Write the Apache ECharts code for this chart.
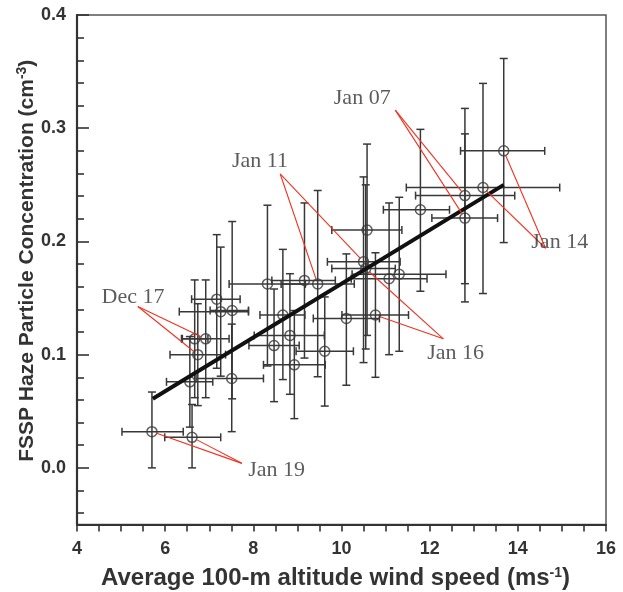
<!DOCTYPE html>
<html>
<head>
<meta charset="utf-8">
<script src="https://cdn.jsdelivr.net/npm/echarts@6/dist/echarts.min.js"></script>
<style>
  html, body { margin: 0; padding: 0; background: #fff; }
  #chart { width: 623px; height: 592px; }
</style>
</head>
<body>
<div id="chart"></div>
<script>
// Daily means: wind speed (m/s) vs FSSP haze particle concentration (cm^-3)
const windSpeed = [5.70, 6.61, 6.56, 7.51, 6.74, 6.67, 6.92, 7.17, 7.26, 7.52,
                   8.32, 9.16, 9.46, 8.67, 8.83, 8.47, 8.93, 9.62, 10.11, 10.77,
                   10.50, 10.55, 10.58, 11.08, 11.31, 11.79, 12.80, 12.80, 13.21, 13.68];
const hazeConc  = [0.032, 0.027, 0.076, 0.079, 0.100, 0.114, 0.114, 0.149, 0.138, 0.139,
                   0.1625, 0.1656, 0.1625, 0.135, 0.117, 0.108, 0.091, 0.103, 0.132, 0.135,
                   0.182, 0.176, 0.210, 0.167, 0.171, 0.228, 0.2405, 0.2206, 0.2476, 0.280];
// Error ranges (low / high) for each day
const windLow   = [5.02, 5.99, 6.03, 6.70, 6.11, 6.37, 6.39, 6.60, 6.32, 7.02,
                   7.45, 8.42, 8.63, 8.15, 8.02, 7.90, 8.23, 8.97, 9.36, 10.01,
                   9.68, 9.78, 9.78, 10.22, 10.24, 10.95, 11.68, 12.05, 11.47, 12.70];
const windHigh  = [6.41, 7.26, 7.08, 8.23, 7.37, 6.97, 7.45, 7.70, 7.89, 7.89,
                   9.18, 9.86, 10.29, 9.17, 9.61, 9.04, 9.63, 10.27, 10.86, 11.52,
                   11.33, 11.22, 11.37, 11.94, 12.37, 12.45, 13.93, 13.54, 14.95, 14.61];
const concLow   = [0.000, 0.000, 0.036, 0.032, 0.055, 0.062, 0.062, 0.088, 0.081, 0.061,
                   0.090, 0.097, 0.0805, 0.078, 0.065, 0.0585, 0.0435, 0.0546, 0.073, 0.080,
                   0.093, 0.105, 0.117, 0.100, 0.103, 0.156, 0.1627, 0.1466, 0.154, 0.199];
const concHigh  = [0.067, 0.056, 0.116, 0.127, 0.145, 0.166, 0.166, 0.206, 0.195, 0.2176,
                   0.232, 0.234, 0.245, 0.193, 0.1715, 0.158, 0.139, 0.151, 0.189, 0.190,
                   0.257, 0.250, 0.286, 0.234, 0.239, 0.299, 0.3175, 0.295, 0.3396, 0.3616];

// Least-squares fit line end points
const fitLine = [[5.72, 0.061], [13.68, 0.250]];

// Axis tick values
const xTicks = [4, 6, 8, 10, 12, 14, 16];
const yTicks = [0.0, 0.1, 0.2, 0.3, 0.4];
const yMinorTicks = [-0.04, -0.02, 0.02, 0.04, 0.06, 0.08, 0.12, 0.14, 0.16, 0.18,
                     0.22, 0.24, 0.26, 0.28, 0.32, 0.34, 0.36, 0.38];

// Date callouts: text, text position, line start, indices of the days pointed at
const noteText    = ['Jan 07', 'Jan 11', 'Jan 14', 'Jan 16', 'Dec 17', 'Jan 19'];
const noteTextPos = [[10.47, 0.3266], [8.15, 0.271], [14.95, 0.1989], [12.59, 0.101], [5.27, 0.151], [8.53, -0.002]];
const noteAnchor  = [[11.22, 0.316], [8.61, 0.2596], [14.63, 0.194], [12.31, 0.114], [5.38, 0.1425], [7.74, 0.004]];
const noteTargets = [[26, 27], [12, 20], [29, 28], [21, 19], [6, 4], [0, 1]];

const SANS = '"Liberation Sans", Arial, Helvetica, sans-serif';
const SERIF = '"Liberation Serif", "Times New Roman", serif';
const INK = '#333333';
const BAR = '#383838';

const errData = windSpeed.map((x, i) => [x, hazeConc[i], windLow[i], windHigh[i], concLow[i], concHigh[i]]);
const pointData = windSpeed.map((x, i) => [x, hazeConc[i]]);

const leaderData = [];
noteAnchor.forEach((a, k) => {
  noteTargets[k].forEach(t => leaderData.push([a[0], a[1], windSpeed[t], hazeConc[t]]));
});
const noteData = noteText.map((t, k) => ({ name: t, value: noteTextPos[k] }));

function renderErrorBars(params, api) {
  const x = api.value(0), y = api.value(1);
  const xl = api.coord([api.value(2), y]);
  const xh = api.coord([api.value(3), y]);
  const yl = api.coord([x, api.value(4)]);
  const yh = api.coord([x, api.value(5)]);
  const cap = 4;
  const style = { stroke: BAR, lineWidth: 1.5, fill: null };
  const seg = (x1, y1, x2, y2) => ({ type: 'line', shape: { x1, y1, x2, y2 }, style });
  return {
    type: 'group',
    children: [
      seg(xl[0], xl[1], xh[0], xh[1]),
      seg(xl[0], xl[1] - cap, xl[0], xl[1] + cap),
      seg(xh[0], xh[1] - cap, xh[0], xh[1] + cap),
      seg(yl[0], yl[1], yh[0], yh[1]),
      seg(yl[0] - cap, yl[1], yl[0] + cap, yl[1]),
      seg(yh[0] - cap, yh[1], yh[0] + cap, yh[1])
    ]
  };
}

function renderLeader(params, api) {
  const a = api.coord([api.value(0), api.value(1)]);
  const t = api.coord([api.value(2), api.value(3)]);
  const dx = t[0] - a[0], dy = t[1] - a[1];
  const len = Math.sqrt(dx * dx + dy * dy) || 1;
  const r = 5;
  return {
    type: 'line',
    shape: { x1: a[0], y1: a[1], x2: t[0] - dx / len * r, y2: t[1] - dy / len * r },
    style: { stroke: '#ee3322', lineWidth: 1.1 }
  };
}

const chart = echarts.init(document.getElementById('chart'), null, { renderer: 'canvas' });

const supStyle = { fontSize: 14, fontWeight: 'bold', fontFamily: SANS, color: INK, verticalAlign: 'top', padding: [0, 0, 10, 0] };

chart.setOption({
  backgroundColor: '#fff',
  animation: false,
  grid: {
    left: 77, right: 17, top: 15, bottom: 67.5,
    outerBoundsMode: 'none',
    show: true, borderColor: '#555', borderWidth: 1.5, backgroundColor: 'transparent'
  },
  xAxis: {
    type: 'value', min: xTicks[0], max: xTicks[xTicks.length - 1], interval: 2,
    axisLine: { show: true, onZero: false, lineStyle: { color: '#333', width: 2.2 } },
    axisTick: { show: true, inside: false, length: 7, lineStyle: { color: '#333', width: 1.6 } },
    minorTick: { show: true, splitNumber: 4, length: 7, lineStyle: { color: '#333', width: 1.6 } },
    splitLine: { show: false },
    axisLabel: { fontSize: 18, fontWeight: 'bold', fontFamily: SANS, color: INK, margin: 16 },
    name: 'Average 100-m altitude wind speed (ms{sup|-1})',
    nameLocation: 'middle', nameGap: 42,
    nameTextStyle: {
      fontSize: 24, fontWeight: 'bold', fontFamily: SANS, color: INK,
      padding: [0, 12, 0, 0],
      rich: { sup: supStyle }
    }
  },
  yAxis: [
    {
      type: 'value', min: -0.05, max: 0.4,
      axisLine: { show: true, onZero: false, lineStyle: { color: '#333', width: 2.2 } },
      axisTick: { show: true, inside: true, length: 12, customValues: yTicks, lineStyle: { color: '#333', width: 1.6 } },
      splitLine: { show: false },
      axisLabel: {
        customValues: yTicks, fontSize: 18, fontWeight: 'bold', fontFamily: SANS, color: INK, margin: 11,
        formatter: v => v.toFixed(1)
      },
      name: 'FSSP Haze Particle Concentration (cm{sup|-3})',
      nameLocation: 'middle', nameGap: 38, nameRotate: 90, nameMoveOverlap: false,
      nameTextStyle: {
        fontSize: 21, fontWeight: 'bold', fontFamily: SANS, color: INK,
        padding: [0, 0, 0, 18],
        rich: { sup: supStyle }
      }
    },
    {
      type: 'value', min: -0.05, max: 0.4, position: 'left',
      axisLine: { show: false, onZero: false },
      axisTick: { show: true, inside: true, length: 7, customValues: yMinorTicks, lineStyle: { color: '#333', width: 1.6 } },
      axisLabel: { show: false },
      splitLine: { show: false }
    }
  ],
  series: [
    {
      type: 'custom', name: 'error', renderItem: renderErrorBars,
      data: errData, encode: { x: [0, 2, 3], y: [1, 4, 5] }, z: 2, silent: true
    },
    {
      type: 'scatter', name: 'days', data: pointData, symbol: 'circle', symbolSize: 10,
      itemStyle: { color: 'rgba(255,255,255,0)', borderColor: BAR, borderWidth: 1.5 }, z: 3, silent: true
    },
    {
      type: 'line', name: 'fit', data: fitLine, showSymbol: false, symbol: 'none',
      lineStyle: { color: '#111', width: 4, cap: 'butt' }, z: 4, silent: true
    },
    {
      type: 'custom', name: 'leaders', renderItem: renderLeader,
      data: leaderData, encode: { x: [0, 2], y: [1, 3] }, z: 5, silent: true
    },
    {
      type: 'scatter', name: 'notes', data: noteData, symbolSize: 0, z: 6, silent: true,
      label: {
        show: true, position: 'inside', formatter: '{b}',
        fontSize: 22, fontFamily: SERIF, color: INK
      }
    }
  ]
});
</script>
</body>
</html>
